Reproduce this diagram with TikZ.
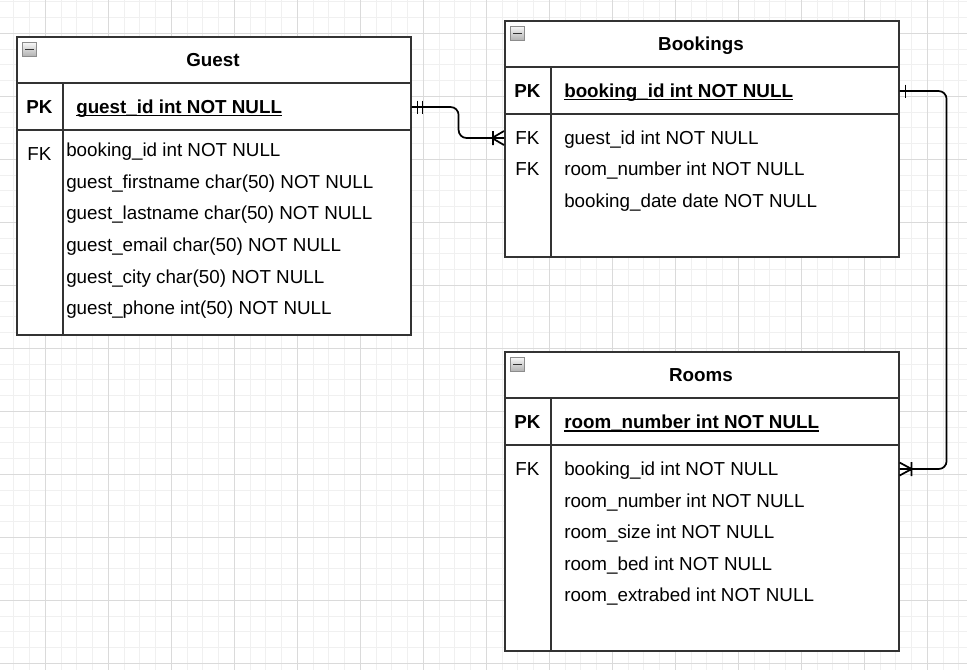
\documentclass[tikz,border=0pt]{standalone}
\usepackage{fontspec}
\setmainfont{Liberation Sans}
\usepackage{tikz}
\usetikzlibrary{positioning}

\definecolor{gridmajor}{HTML}{DADADA}
\definecolor{gridminor}{HTML}{F0F0F0}
\definecolor{tableline}{HTML}{333333}

\begin{document}
\begin{tikzpicture}[x=0.75pt, y=-0.75pt,
  every node/.style = {font=\fontsize{14.1}{17}\selectfont, inner sep=0pt},
  tablebox/.style = {draw=tableline, line width=1.2pt, fill=white,
    anchor=north west, minimum width=295.5pt},
  rowline/.style = {draw=tableline, line width=1.2pt},
  title/.style = {font=\fontsize{14.1}{17}\selectfont\bfseries, anchor=base},
  keylabel/.style = {anchor=base},
  field/.style = {anchor=base west},
  keyfield/.style = {anchor=base west, font=\fontsize{14.1}{17}\selectfont\bfseries},
  underline/.style = {line width=1.3pt},
  minusbox/.style = {draw=black!45, line width=0.75pt,
    top color=black!4, bottom color=black!30, minimum size=10pt,
    path picture={\draw[line width=1.4pt, black!80]
      ([xshift=-3.2pt]path picture bounding box.center) --
      ([xshift=3.2pt]path picture bounding box.center);}},
  relation/.style = {line width=1.3pt, rounded corners=6pt},
  marker/.style = {line width=1.3pt}]

\useasboundingbox (0,0) rectangle (967,670);

% grid
\foreach \gx in {0,...,62}
  \draw[gridminor, line width=0.75pt] ({-1.95+15.75*\gx},0) -- ({-1.95+15.75*\gx},670);
\foreach \gy in {0,...,43}
  \draw[gridminor, line width=0.75pt] (0,{1.8+15.75*\gy}) -- (967,{1.8+15.75*\gy});
\foreach \gx in {-1,...,14}
  \draw[gridmajor, line width=0.75pt] ({45.3+63*\gx},0) -- ({45.3+63*\gx},670);
\foreach \gy in {0,...,10}
  \draw[gridmajor, line width=0.75pt] (0,{33.3+63*\gy}) -- (967,{33.3+63*\gy});

% Guest
\node[tablebox, minimum height=223.5pt] (guest) at (16,36) {};
\draw[rowline] (16,83) -- (410,83) (16,130) -- (410,130) (63,83) -- (63,334);
\node[minusbox] (guestmin) at (29.5,49.5) {};
\node[title] (guesttitle) at (213,66.5) {Guest};
\node[keylabel] (guestpk) at (39.5,113.5) {\textbf{PK}};
\node[keyfield] (guestid) at (76,113.5) {guest\_id int NOT NULL};
\draw[underline] ([yshift=-1.6pt]guestid.base west) -- ([yshift=-1.6pt]guestid.base east);
\node[keylabel] (guestfk) at (39.5,161) {FK};
\node[field] (gbooking) at (66,157) {booking\_id int NOT NULL};
\node[field] (gfirst) at (66,188.5) {guest\_firstname char(50) NOT NULL};
\node[field] (glast) at (66,220) {guest\_lastname char(50) NOT NULL};
\node[field] (gemail) at (66,251.5) {guest\_email char(50) NOT NULL};
\node[field] (gcity) at (66,283) {guest\_city char(50) NOT NULL};
\node[field] (gphone) at (66,314.5) {guest\_phone int(50) NOT NULL};

% Bookings
\node[tablebox, minimum height=177pt] (bookings) at (504,20) {};
\draw[rowline] (504,67) -- (898,67) (504,114) -- (898,114) (551,67) -- (551,256);
\node[minusbox] (bookingsmin) at (517.5,33.5) {};
\node[title] (bookingstitle) at (701,50.5) {Bookings};
\node[keylabel] (bookingspk) at (527.5,97.5) {\textbf{PK}};
\node[keyfield] (bookingid) at (564,97.5) {booking\_id int NOT NULL};
\draw[underline] ([yshift=-1.6pt]bookingid.base west) -- ([yshift=-1.6pt]bookingid.base east);
\node[keylabel] (bookingsfk1) at (527.5,144.5) {FK};
\node[keylabel] (bookingsfk2) at (527.5,176) {FK};
\node[field] (bguest) at (564,144.5) {guest\_id int NOT NULL};
\node[field] (broom) at (564,176) {room\_number int NOT NULL};
\node[field] (bdate) at (564,207.5) {booking\_date date NOT NULL};

% Rooms
\node[tablebox, minimum height=224.25pt] (rooms) at (504,351) {};
\draw[rowline] (504,398) -- (898,398) (504,445) -- (898,445) (551,398) -- (551,650);
\node[minusbox] (roomsmin) at (517.5,364.5) {};
\node[title] (roomstitle) at (701,381.5) {Rooms};
\node[keylabel] (roomspk) at (527.5,428.5) {\textbf{PK}};
\node[keyfield] (roomid) at (564,428.5) {room\_number int NOT NULL};
\draw[underline] ([yshift=-1.6pt]roomid.base west) -- ([yshift=-1.6pt]roomid.base east);
\node[keylabel] (roomsfk) at (527.5,475.5) {FK};
\node[field] (rbooking) at (564,475.5) {booking\_id int NOT NULL};
\node[field] (rnumber) at (564,507) {room\_number int NOT NULL};
\node[field] (rsize) at (564,538.5) {room\_size int NOT NULL};
\node[field] (rbed) at (564,570) {room\_bed int NOT NULL};
\node[field] (rextra) at (564,601.5) {room\_extrabed int NOT NULL};

% relations
\coordinate (guestout) at (guest.east |- guestpk);
\coordinate (bookingsin) at (bookings.west |- bookingsfk1);
\coordinate (bookingsout) at (bookings.east |- bookingspk);
\coordinate (roomsin) at (rooms.east |- roomsfk);

\draw[relation] (guestout) -- ++(47,0) |- (bookingsin);
\draw[marker, shift={(guestout)}] (6,-6.5) -- (6,6.5) (11,-6.5) -- (11,6.5);
\draw[marker, shift={(bookingsin)}] (0,-7) -- (-12,0) -- (0,7) (-11,-7) -- (-11,7);

\draw[relation] (bookingsout) -- ++(47,0) |- (roomsin);
\draw[marker, shift={(bookingsout)}] (6,-6.5) -- (6,6.5);
\draw[marker, shift={(roomsin)}] (0,-6.5) -- (12,0) -- (0,6.5) (12,-7) -- (12,7);
\end{tikzpicture}
\end{document}
